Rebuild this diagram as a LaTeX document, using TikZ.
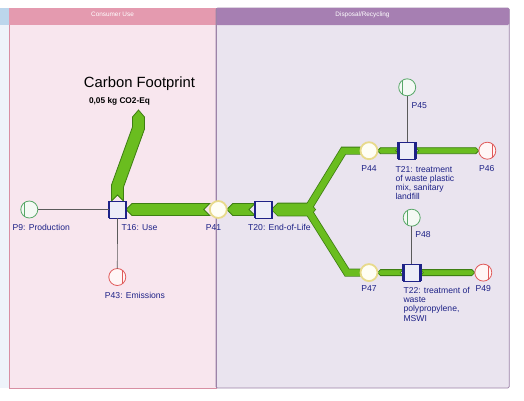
\documentclass[tikz,border=0pt]{standalone}
\usepackage{fontspec}
\setmainfont{Liberation Sans}
\usetikzlibrary{calc}
\definecolor{navy}{HTML}{1E2287}
\definecolor{pgreen}{HTML}{58A868}
\definecolor{pgreenfill}{HTML}{F4F9F4}
\definecolor{pred}{HTML}{E05A5A}
\definecolor{predfill}{HTML}{FFF6F6}
\definecolor{pyellow}{HTML}{E8DA8C}
\definecolor{pyellowfill}{HTML}{FFFEF4}
\definecolor{boxfill}{HTML}{EDEDF8}
\definecolor{bandfill}{HTML}{6ABD1F}
\definecolor{bandline}{HTML}{3E7E12}
\definecolor{conncol}{HTML}{5A5A5A}
\definecolor{pinkbody}{HTML}{F8E6EE}
\definecolor{pinkhead}{HTML}{E49AAF}
\definecolor{pinkline}{HTML}{D88FA3}
\definecolor{purpbody}{HTML}{EAE4EF}
\definecolor{purphead}{HTML}{A67FB2}
\definecolor{purpline}{HTML}{9C83A8}
\definecolor{bluebody}{HTML}{EEF3FA}
\definecolor{bluehead}{HTML}{BCD6EC}
\pgfdeclarelayer{lanes}
\pgfdeclarelayer{bands}
\pgfsetlayers{lanes,bands,main}
\tikzset{
 place/.style={circle, minimum size=17pt, inner sep=0pt, outer sep=0pt, line width=0.8pt},
 gplace/.style={place, draw=pgreen, fill=pgreenfill},
 rplace/.style={place, draw=pred, fill=predfill},
 yplace/.style={place, draw=pyellow, fill=pyellowfill, line width=1.8pt},
 tbox/.style={rectangle, minimum width=17pt, minimum height=17pt, inner sep=0pt, outer sep=0pt, draw=navy, fill=boxfill, line width=0.6pt},
 band/.style={fill=bandfill, draw=bandline, line width=0.8pt, line join=miter},
 conn/.style={draw=conncol, line width=0.7pt},
 lbl/.style={text=navy, font=\fontsize{8.6}{9.3}\selectfont, inner sep=0pt},
 headtxt/.style={text=white, font=\fontsize{6.4}{7}\selectfont, inner sep=0pt},
}
\newcommand\tbars[1]{\draw[navy, line width=2.6pt] (#1.north west) -- (#1.south west) (#1.north east) -- (#1.south east);}
\newcommand\inbar[1]{\draw[pgreen, line width=0.8pt] ($(#1.center)+(-4.5,-7.2)$) -- ++(0,14.4);}
\newcommand\outbar[1]{\draw[pred, line width=0.8pt] ($(#1.center)+(5,-6.9)$) -- ++(0,13.8);}
% band flowing left: head at #1.east, notch at #2.west, half width #3
\newcommand\lband[3]{\filldraw[band] (#1.east) -- ++(#3,-#3) -- ($(#2.west)+(0,-#3)$) -- ++(-#3,#3) -- ($(#2.west)+(0,#3)$) -- ($(#1.east)+(#3,#3)$) -- cycle;}
% band flowing right: notch at #1.east, head at #2.west
\newcommand\rband[3]{\filldraw[band] ($(#1.east)+(0,-#3)$) -- ($(#2.west)+(-#3,-#3)$) -- (#2.west) -- ($(#2.west)+(-#3,#3)$) -- ($(#1.east)+(0,#3)$) -- ++(#3,-#3) -- cycle;}
\begin{document}
\begin{tikzpicture}[x=1pt,y=-1pt]
\useasboundingbox (0,0) rectangle (524,400);

% ---------- lanes ----------
\begin{pgfonlayer}{lanes}
\fill[white] (0,0) rectangle (524,400);
\fill[bluebody] (0,8) rectangle (9.3,388);
\fill[bluehead] (0,8) rectangle (9.3,25);
\filldraw[fill=pinkbody, draw=pinkline, line width=0.6pt] (9.3,8) rectangle (216,388);
\fill[pinkhead] (9.3,8) rectangle (216,25);
\filldraw[fill=purpbody, draw=purpline, line width=0.7pt, rounded corners=1.5pt] (216,8) rectangle (509.3,388);
\fill[purphead, rounded corners=1.5pt] (216,8) -- (509.3,8) -- (509.3,25) -- (216,25) -- cycle;
\draw[purpline, line width=0.6pt] (216,8) -- (216,388);
\end{pgfonlayer}
\node[headtxt] (hcu) at (112.5,14.5) {Consumer Use};
\node[headtxt] (hdr) at (362.5,14.5) {Disposal/Recycling};

% ---------- transitions ----------
\node[tbox] (T16) at (117.5,209.5) {}; \tbars{T16}
\node[tbox] (T20) at (263.5,209.5) {}; \tbars{T20}
\node[tbox] (T21) at (407.2,150.7) {}; \tbars{T21}
\node[tbox] (T22) at (411.7,272.6) {}; \tbars{T22}

% ---------- places ----------
\node[gplace] (P9) at (29.3,209.5) {}; \inbar{P9}
\node[rplace] (P43) at (117.3,277) {}; \outbar{P43}
\node[yplace] (P41) at (218.3,209.5) {};
\node[yplace] (P44) at (369,150.7) {};
\node[gplace] (P45) at (407.2,87.3) {}; \inbar{P45}
\node[rplace] (P46) at (487.3,150.7) {}; \outbar{P46}
\node[yplace] (P47) at (369,272.6) {};
\node[gplace] (P48) at (411.7,217.7) {}; \inbar{P48}
\node[rplace] (P49) at (483.3,272.6) {}; \outbar{P49}

% ---------- connectors ----------
\draw[conn] (P9) -- (T16);
\draw[conn] (T16) -- (P43);
\draw[conn] (P45) -- (T21);
\draw[conn] (P48) -- (T22);

% ---------- flows ----------
\begin{pgfonlayer}{bands}
\lband{T16}{P41}{6}
\lband{P41}{T20}{6}
\lband{P44}{T21}{3}
\lband{P47}{T22}{3}
\rband{T21}{P46}{3}
\rband{T22}{P49}{3}
% fork: pass 1 outlines
\filldraw[band, line width=1.6pt] (T20.east) -- ++(6,-6) -- (310,203.5) -- (315,209.5) -- (310,215.5) -- ($(T20.east)+(6,6)$) -- cycle;
\draw[bandline, line width=8pt, line join=miter] (309,207) -- (343.5,150.7) -- (P44.west);
\draw[bandline, line width=8pt, line join=miter] (309,212) -- (347,272.6) -- (P47.west);
% fork: pass 2 fills
\fill[bandfill] (T20.east) -- ++(6,-6) -- (310,203.5) -- (315,209.5) -- (310,215.5) -- ($(T20.east)+(6,6)$) -- cycle;
\draw[bandfill, line width=6.4pt, line join=miter] (309,207) -- (343.5,150.7) -- (P44.west);
\draw[bandfill, line width=6.4pt, line join=miter] (309,212) -- (347,272.6) -- (P47.west);
% carbon footprint arrow
\filldraw[band] (111.5,201) -- (111.5,184.96) -- (132.5,126.96) -- (132.5,117) -- (138.5,110) -- (144.5,117) -- (144.5,129.05) -- (123.5,187.04) -- (123.5,201) -- (117.5,195) -- cycle;
\end{pgfonlayer}

% ---------- texts ----------
\node[inner sep=0pt, font=\fontsize{14.8}{16}\selectfont] (cf) at (139.5,84) {Carbon Footprint};
\node[inner sep=0pt, font=\bfseries\fontsize{8.3}{9}\selectfont] (cfv) at (119.5,101.7) {0,05 kg CO2-Eq};

\node[lbl, anchor=west] (lP9) at (12.5,227.5) {P9: Production};
\node[lbl, anchor=west] (lT16) at (121.5,227.5) {T16: Use};
\node[lbl] (lP43) at (135,295) {P43: Emissions};
\node[lbl] (lP41) at (213.5,227.5) {P41};
\node[lbl, anchor=west] (lT20) at (248,227.5) {T20: End-of-Life};
\node[lbl] (lP44) at (369,168.5) {P44};
\node[lbl] (lP45) at (419.3,105.5) {P45};
\node[lbl, anchor=north west, align=left] (lT21) at (395.3,165.8) {T21: treatment\\of waste plastic\\mix, sanitary\\landfill};
\node[lbl] (lP46) at (486.7,168.7) {P46};
\node[lbl] (lP47) at (369,289) {P47};
\node[lbl] (lP48) at (423,235) {P48};
\node[lbl, anchor=north west, align=left] (lT22) at (403.3,286.8) {T22: treatment of\\waste\\polypropylene,\\MSWI};
\node[lbl] (lP49) at (483.3,289) {P49};
\end{tikzpicture}
\end{document}
